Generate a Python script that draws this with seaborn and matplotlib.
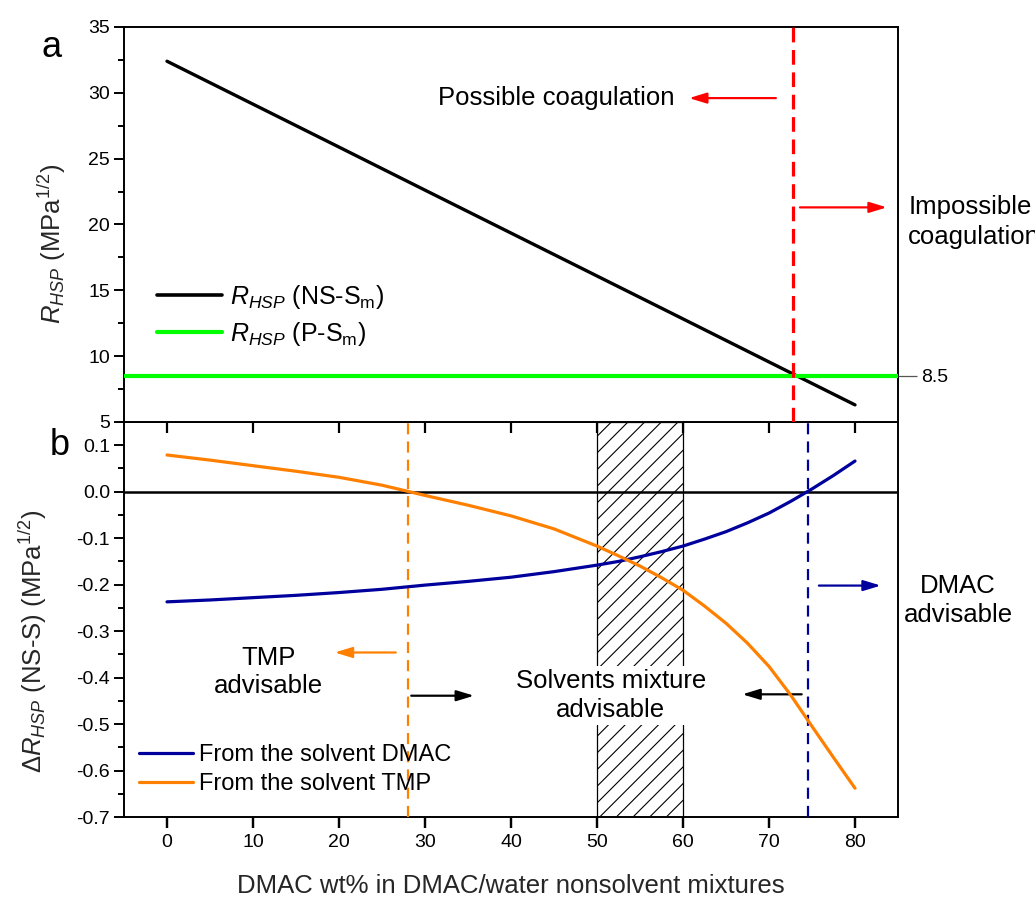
import numpy as np
import pandas as pd
import matplotlib
matplotlib.use("Agg")
import matplotlib.pyplot as plt
from matplotlib.ticker import MultipleLocator, AutoMinorLocator
from matplotlib.lines import Line2D
import seaborn as sns

# ---- data -------------------------------------------------------------
# (a) Hansen distance of the nonsolvent mixture to the membrane solvent
dmac_wt_a = [0, 10, 20, 30, 40, 50, 60, 70, 80]
r_ns_sm = [32.4, 29.14, 25.88, 22.61, 19.35, 16.09, 12.83, 9.56, 6.3]
r_p_sm = 8.5            # polymer / solvent-mixture distance
coag_limit = 72.8       # DMAC wt% where R(NS-Sm) reaches R(P-Sm)

# (b) difference of Hansen distances for the two solvents
dmac_wt_b = [0, 5, 10, 15, 20, 25, 30, 35, 40, 45, 50, 52.5, 55, 57.5, 60,
             62.5, 65, 67.5, 70, 72.5, 75, 77.5, 80]
d_r_dmac = [-0.237, -0.233, -0.228, -0.223, -0.217, -0.210, -0.201, -0.193,
            -0.184, -0.172, -0.158, -0.150, -0.140, -0.129, -0.117,
            -0.102, -0.086, -0.067, -0.046, -0.021, 0.006, 0.035, 0.066]
d_r_tmp = [0.079, 0.068, 0.056, 0.044, 0.031, 0.014, -0.008, -0.029,
           -0.052, -0.080, -0.117, -0.138, -0.160, -0.185, -0.212,
           -0.246, -0.283, -0.326, -0.376, -0.437, -0.505, -0.572, -0.638]
tmp_limit = 28.0
dmac_limit = 74.5
mixture_band = (50, 60)

# ---- style ------------------------------------------------------------
sns.set_theme(style="ticks")
plt.rcParams["font.family"] = ["Liberation Sans", "DejaVu Sans"]
plt.rcParams.update({
    "mathtext.fontset": "custom",
    "mathtext.rm": "Liberation Sans",
    "mathtext.it": "Liberation Sans:italic",
    "mathtext.bf": "Liberation Sans:bold",
    "axes.linewidth": 1.4,
    "hatch.linewidth": 0.8,
    "axes.edgecolor": "black",
    "xtick.color": "black",
    "ytick.color": "black",
    "text.color": "black",
})

BLUE = "#00009c"
ORANGE = "#ff8000"
GREEN = "#00ff00"
RED = "#ff0000"
TICK_FS = 14
LABEL_FS = 18.5
NOTE_FS = 18.5

W, H = 1035, 899
fig = plt.figure(figsize=(W / 100, H / 100), dpi=100)
left, right = 124 / W, 898 / W
bot_rect = [left, 1 - 817 / H, right - left, (817 - 422) / H]
ax_top = fig.add_axes([left, 1 - 422 / H, right - left, (422 - 27) / H])
ax_bot = fig.add_axes(bot_rect, sharex=ax_top)
# upper panel is drawn last so its bottom ticks reach into the lower panel
ax_top.set_zorder(2)

for ax in (ax_top, ax_bot):
    for s in ax.spines.values():
        s.set_visible(True)
        s.set_linewidth(1.4)
    ax.tick_params(axis="y", which="major", direction="out", length=7,
                   width=1.4, labelsize=TICK_FS, pad=3)
    ax.tick_params(axis="y", which="minor", direction="out", length=4.5,
                   width=1.4)

def arrow(ax, tail, head, y, color):
    ax.annotate("", xy=(head, y), xytext=(tail, y),
                arrowprops=dict(arrowstyle="-|>,head_length=1.05,head_width=0.32",
                                color=color, lw=1.6, shrinkA=0, shrinkB=0,
                                mutation_scale=10),
                annotation_clip=False)

# ---- panel (a) --------------------------------------------------------
sns.lineplot(x=dmac_wt_a, y=r_ns_sm, ax=ax_top, color="black", lw=2.4,
             legend=False)
ax_top.axhline(r_p_sm, color=GREEN, lw=3.0, zorder=3)
ax_top.axvline(coag_limit, color=RED, lw=2.3, dashes=(4.6, 2.4), zorder=4)

ax_top.set_xlim(-5, 85)
ax_top.set_ylim(5, 35)
ax_top.yaxis.set_major_locator(MultipleLocator(5))
ax_top.yaxis.set_minor_locator(AutoMinorLocator(2))
ax_top.set_ylabel(r"$R_{HSP}$ (MPa$^{1/2}$)", fontsize=LABEL_FS)
ax_top.yaxis.set_label_coords(-0.072, 0.45)

top_handles = [Line2D([], [], color="black", lw=2.6),
               Line2D([], [], color=GREEN, lw=3.0)]
ax_top.legend(top_handles,
              [r"$R_{HSP}$ (NS-S$_{\mathrm{m}}$)", r"$R_{HSP}$ (P-S$_{\mathrm{m}}$)"],
              loc="center left", bbox_to_anchor=(0.043, 0.27), frameon=False,
              fontsize=18, handlelength=2.6, handletextpad=0.3,
              labelspacing=0.38, borderpad=0, borderaxespad=0)

# right-hand marker for the polymer distance
ax_r = ax_top.twinx()
ax_r.set_ylim(5, 35)
ax_r.set_yticks([r_p_sm])
ax_r.set_yticklabels([f"{r_p_sm:g}"])
ax_r.tick_params(axis="y", direction="out", length=13.5, width=0.9,
                 color="#555555", labelsize=TICK_FS, pad=3)
ax_r.yaxis.set_minor_locator(plt.NullLocator())
for s in ax_r.spines.values():
    s.set_visible(False)

arrow(ax_top, 70.8, 60.7, 29.6, RED)
ax_top.text(45.3, 29.6, "Possible coagulation", fontsize=NOTE_FS,
            ha="center", va="center")
arrow(ax_top, 73.6, 83.7, 21.3, RED)
ax_top.text(86.2, 20.2, "Impossible\ncoagulation", fontsize=NOTE_FS,
            ha="left", va="center", linespacing=1.3, clip_on=False)

# ---- panel (b) --------------------------------------------------------
ax_bot.axvspan(*mixture_band, facecolor="white", edgecolor="black",
               hatch="//", lw=0.9, zorder=1)
ax_bot.axhline(0, color="black", lw=1.8, zorder=2)
sns.lineplot(x=dmac_wt_b, y=d_r_dmac, ax=ax_bot, color=BLUE, lw=2.3,
             label="From the solvent DMAC", zorder=4)
sns.lineplot(x=dmac_wt_b, y=d_r_tmp, ax=ax_bot, color=ORANGE, lw=2.3,
             label="From the solvent TMP", zorder=4)
ax_bot.axvline(tmp_limit, color=ORANGE, lw=1.6, dashes=(5, 3.2), zorder=3)
ax_bot.axvline(dmac_limit, color=BLUE, lw=1.6, dashes=(5, 3.2), zorder=3)

ax_bot.set_xlim(-5, 85)
ax_bot.set_ylim(-0.7, 0.15)
ax_bot.yaxis.set_major_locator(MultipleLocator(0.1))
ax_bot.yaxis.set_minor_locator(AutoMinorLocator(2))
ax_bot.yaxis.set_major_formatter(plt.FuncFormatter(lambda v, p: f"{v:.1f}"))
ax_bot.xaxis.set_major_locator(MultipleLocator(10))
ax_bot.set_xlabel("DMAC wt% in DMAC/water nonsolvent mixtures",
                  fontsize=LABEL_FS, labelpad=17)
ax_bot.set_ylabel("Δ$R_{HSP}$ (NS-S) (MPa$^{1/2}$)", fontsize=LABEL_FS)
ax_bot.yaxis.set_label_coords(-0.097, 0.445)

ax_bot.legend(loc="center left", bbox_to_anchor=(0.019, 0.12),
              frameon=False, fontsize=17, handlelength=2.3,
              handletextpad=0.25, labelspacing=0.3, borderpad=0,
              borderaxespad=0)

arrow(ax_bot, 26.6, 19.5, -0.346, ORANGE)
ax_bot.text(11.8, -0.388, "TMP\nadvisable", fontsize=NOTE_FS, ha="center",
            va="center", linespacing=1.25)
arrow(ax_bot, 28.4, 35.7, -0.439, "black")
ax_bot.text(51.6, -0.439, "Solvents mixture\nadvisable", fontsize=NOTE_FS,
            ha="center", va="center", linespacing=1.25, zorder=5,
            bbox=dict(boxstyle="square,pad=0.12", fc="white", ec="none"))
arrow(ax_bot, 73.8, 66.9, -0.436, "black")
arrow(ax_bot, 75.8, 83.0, -0.202, BLUE)
ax_bot.text(92.0, -0.234, "DMAC\nadvisable", fontsize=NOTE_FS, ha="center",
            va="center", linespacing=1.25, clip_on=False)

# x ticks: outward under the lower panel, and from the upper panel's
# bottom edge reaching down into the lower panel
ax_bot.tick_params(axis="x", which="major", bottom=True, top=False,
                   direction="out", length=8, width=1.6, color="black",
                   labelsize=TICK_FS, pad=4)
ax_top.tick_params(axis="x", which="major", bottom=True, top=False,
                   direction="out", length=8, width=1.6, color="black",
                   labelbottom=False)

# transparent overlay carrying the outward ticks under the lower panel
ax_ticks = fig.add_axes(bot_rect, sharex=ax_bot)
ax_ticks.set_zorder(3)
ax_ticks.patch.set_visible(False)
for s in ax_ticks.spines.values():
    s.set_visible(False)
ax_ticks.set_yticks([])
ax_ticks.tick_params(axis="y", which="both", left=False, right=False,
                     labelleft=False)
ax_ticks.tick_params(axis="x", which="major", bottom=True, top=False,
                     direction="out", length=8, width=1.6, color="black",
                     labelbottom=False)
ax_ticks.tick_params(axis="x", which="minor", bottom=False, top=False)

# panel letters
fig.text(52 / W, 1 - 57 / H, "a", fontsize=26, ha="center", va="baseline")
fig.text(60 / W, 1 - 455 / H, "b", fontsize=26, ha="center", va="baseline")

fig.savefig("out.png", dpi=100, facecolor="white")
